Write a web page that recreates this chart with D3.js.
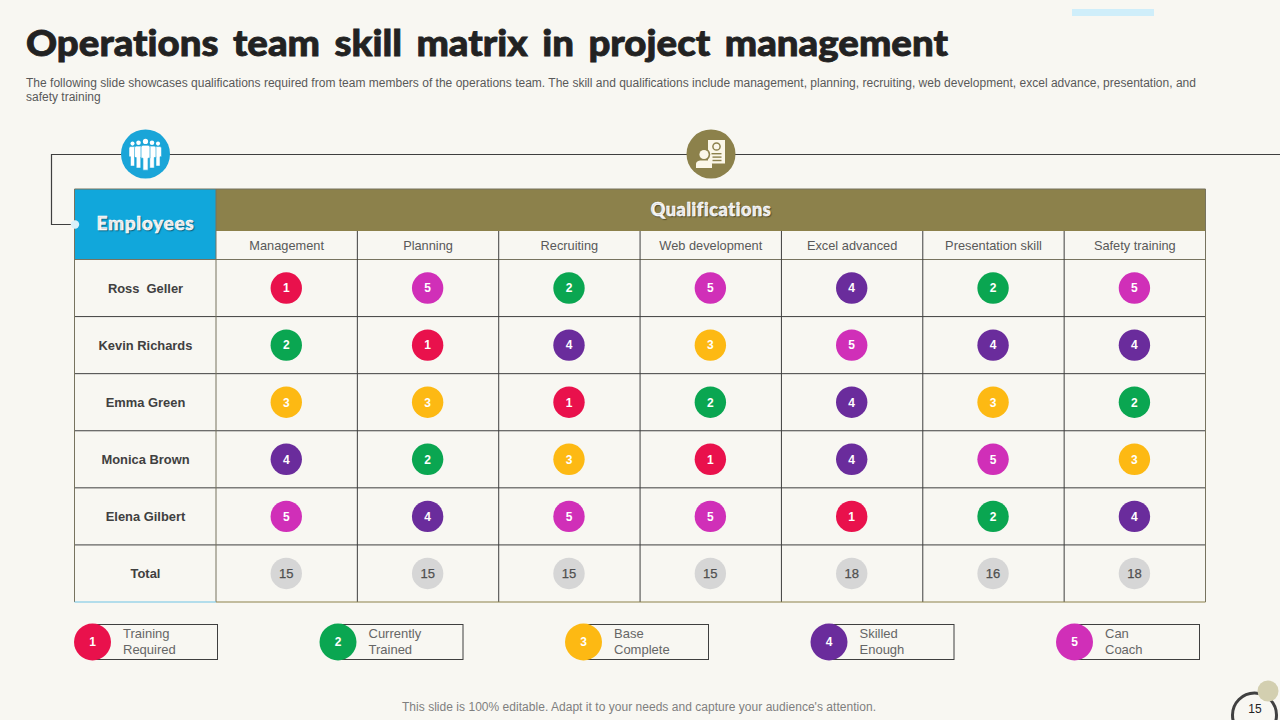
<!DOCTYPE html>
<html>
<head>
<meta charset="utf-8">
<script src="https://cdn.jsdelivr.net/npm/d3@7"></script>
<style>
  html, body { margin: 0; padding: 0; background: #f8f7f2; }
  svg { display: block; }
  text { font-family: "Liberation Sans", Arial, sans-serif; white-space: pre; }
</style>
</head>
<body>
<div id="chart"></div>
<script>
// 資料
const employees = ['Ross  Geller', 'Kevin Richards', 'Emma Green', 'Monica Brown', 'Elena Gilbert']
const qualifications = ['Management', 'Planning', 'Recruiting', 'Web development', 'Excel advanced', 'Presentation skill', 'Safety training']
const rossScores = [1, 5, 2, 5, 4, 2, 5]
const kevinScores = [2, 1, 4, 3, 5, 4, 4]
const emmaScores = [3, 3, 1, 2, 4, 3, 2]
const monicaScores = [4, 2, 3, 1, 4, 5, 3]
const elenaScores = [5, 4, 5, 5, 1, 2, 4]
const totals = [15, 15, 15, 15, 18, 16, 18]
const legendLevels = [1, 2, 3, 4, 5]
const legendLabels = [['Training', 'Required'], ['Currently', 'Trained'], ['Base', 'Complete'], ['Skilled', 'Enough'], ['Can', 'Coach']]

const scores = [rossScores, kevinScores, emmaScores, monicaScores, elenaScores]
const rowNames = [...employees, 'Total']

const svg = d3.select('#chart').append('svg').attr('width', 1280).attr('height', 720)

const levelColor = d3.scaleOrdinal().domain(legendLevels)
    .range(['#e9114c', '#0aa651', '#fdb913', '#6a2c9c', '#d02fb8'])

// scale
const xScale = d3.scaleBand().domain(qualifications).range([216, 1205.5])
const yScale = d3.scaleBand().domain(rowNames).range([259.5, 602])
const legendScale = d3.scalePoint().domain(legendLevels).range([92.5, 1074.5])

const lineColor = '#3f3f3f'

// 標題
svg.append('text').attr('x', 26).attr('y', 56)
    .attr('textLength', 922).attr('lengthAdjust', 'spacingAndGlyphs')
    .style('font-family', 'Lato').style('font-weight', 900).style('font-size', '36px').style('fill', '#222')
    .style('font-variant-ligatures', 'none').style('word-spacing', '5px')
    .style('stroke', '#222').style('stroke-width', '0.8px')
    .text('Operations team skill matrix in project management')

svg.append('text').attr('x', 26).attr('y', 87)
    .attr('textLength', 1170).attr('lengthAdjust', 'spacing')
    .style('font-size', '12px').style('fill', '#595959')
    .text('The following slide showcases qualifications required from team members of the operations team. The skill and qualifications include management, planning, recruiting, web development, excel advance, presentation, and')
svg.append('text').attr('x', 26).attr('y', 101)
    .style('font-size', '12px').style('fill', '#595959')
    .text('safety training')

// 右上色塊
svg.append('rect').attr('x', 1072).attr('y', 9).attr('width', 82).attr('height', 7).attr('fill', '#cfeefa')

// 連接線
svg.append('path')
    .attr('d', 'M1280,154.5H51.5V224.5H75')
    .attr('fill', 'none').attr('stroke', lineColor).attr('stroke-width', 1.2)

// 表頭
svg.append('rect').attr('x', 74.5).attr('y', 189).attr('width', 141.5).attr('height', 70.5).attr('fill', '#11a7db')
svg.append('rect').attr('x', 216).attr('y', 189).attr('width', 989.5).attr('height', 42).attr('fill', '#8c814b')

svg.append('text').attr('x', 145.5).attr('y', 230)
    .attr('text-anchor', 'middle')
    .style('font-family', 'Lato').style('font-weight', 900).style('font-size', '19px').style('fill', '#fff')
    .style('stroke', '#fff').style('stroke-width', '0.5px')
    .style('letter-spacing', '0.7px')
    .style('text-shadow', '1px 1px 1px rgba(0,0,0,0.35)')
    .text('Employees')
svg.append('text').attr('x', 711).attr('y', 215.5)
    .attr('text-anchor', 'middle')
    .style('font-family', 'Lato').style('font-weight', 900).style('font-size', '18px').style('fill', '#fff')
    .style('stroke', '#fff').style('stroke-width', '0.5px')
    .style('letter-spacing', '0.6px')
    .style('text-shadow', '1px 1px 1px rgba(0,0,0,0.35)')
    .text('Qualifications')

// 格線
const grid = svg.append('g').attr('stroke', lineColor).attr('stroke-width', 1).attr('fill', 'none')
rowNames.forEach((d, i) => {
    if (i > 0) {
        grid.append('line').attr('x1', 74.5).attr('x2', 1205.5).attr('y1', yScale(d)).attr('y2', yScale(d))
    }
})
grid.append('line').attr('x1', 74.5).attr('x2', 1205.5).attr('y1', yScale.range()[0]).attr('y2', yScale.range()[0]).attr('stroke', '#77735f')
grid.append('line').attr('x1', 74.5).attr('x2', 1205.5).attr('y1', 189).attr('y2', 189).attr('stroke', '#77735f')
grid.append('line').attr('x1', 1205.5).attr('x2', 1205.5).attr('y1', 189).attr('y2', 602).attr('stroke', '#77735f')
grid.append('line').attr('x1', 74.5).attr('x2', 74.5).attr('y1', 189).attr('y2', 602).attr('stroke', '#77735f')
qualifications.forEach(d => {
    grid.append('line').attr('x1', xScale(d)).attr('x2', xScale(d))
        .attr('y1', xScale(d) === 216 ? 189 : 231).attr('y2', 602)
        .attr('stroke', xScale(d) === 216 ? '#77735f' : lineColor)
})
svg.append('line').attr('x1', 74.5).attr('x2', 216).attr('y1', 602).attr('y2', 602).attr('stroke', '#6fc3e3').attr('stroke-width', 1.2)
svg.append('line').attr('x1', 216).attr('x2', 1205.5).attr('y1', 602).attr('y2', 602).attr('stroke', '#8c814b').attr('stroke-width', 1.2)

svg.append('circle').attr('cx', 75).attr('cy', 224.5).attr('r', 4.2).attr('fill', '#d8f1fa')

// 欄標題
svg.selectAll('.col-label').data(qualifications).enter()
    .append('text').attr('class', 'col-label')
    .attr('x', d => xScale(d) + xScale.bandwidth() / 2)
    .attr('y', 250)
    .attr('text-anchor', 'middle')
    .style('font-size', '12.8px').style('fill', '#595959')
    .text(d => d)

// 列標題
svg.selectAll('.row-label').data(rowNames).enter()
    .append('text').attr('class', 'row-label')
    .attr('x', 145.5)
    .attr('y', d => yScale(d) + yScale.bandwidth() / 2 + 4.5)
    .attr('text-anchor', 'middle')
    .style('font-size', '12.9px').style('font-weight', 700).style('fill', '#404040')
    .text(d => d)

// 圓點
const cells = employees.flatMap((name, r) =>
    qualifications.map((q, c) => ({ name, q, value: scores[r][c] })))

const cell = svg.selectAll('.cell').data(cells).enter()
    .append('g').attr('class', 'cell')
    .attr('transform', d => `translate(${xScale(d.q) + xScale.bandwidth() / 2 - 0.4},${yScale(d.name) + yScale.bandwidth() / 2})`)
cell.append('circle').attr('r', 15.7).attr('fill', d => levelColor(d.value))
cell.append('text').attr('y', 4.3).attr('text-anchor', 'middle')
    .style('font-size', '12px').style('font-weight', 700)
    .style('fill', d => d === 3 ? '#fff' : '#fff')
    .text(d => d.value)

// 合計
const total = svg.selectAll('.total').data(totals).enter()
    .append('g').attr('class', 'total')
    .attr('transform', (d, i) => `translate(${xScale(qualifications[i]) + xScale.bandwidth() / 2 - 0.4},${yScale('Total') + yScale.bandwidth() / 2})`)
total.append('circle').attr('r', 15.7).attr('fill', '#d6d6d6')
total.append('text').attr('y', 4.6).attr('text-anchor', 'middle')
    .style('font-size', '13px').style('fill', '#505050')
    .style('stroke', '#505050').style('stroke-width', '0.25px')
    .text(d => d)

// 圖例
const legend = svg.selectAll('.legend').data(legendLevels).enter()
    .append('g').attr('class', 'legend')
    .attr('transform', d => `translate(${legendScale(d)},642)`)
legend.append('rect').attr('x', 0).attr('y', -17.5).attr('width', 125).attr('height', 35)
    .attr('fill', 'none').attr('stroke', lineColor).attr('stroke-width', 1)
legend.append('circle').attr('r', 18.5).attr('fill', d => levelColor(d))
legend.append('text').attr('y', 4.3).attr('text-anchor', 'middle')
    .style('font-size', '12px').style('font-weight', 700).style('fill', '#fff')
    .text(d => d)
legend.each(function (d, i) {
    const g = d3.select(this)
    legendLabels[i].forEach((t, j) => {
        g.append('text').attr('x', 30.5).attr('y', -4 + j * 16)
            .style('font-size', '13px').style('fill', '#666')
            .text(t)
    })
})

// 人物圖示
const peopleIcon = svg.append('g').attr('transform', 'translate(145.5,154)')
peopleIcon.append('circle').attr('r', 24.5).attr('fill', '#1aa5d8')
function person(x, y, scale) {
    const p = peopleIcon.append('g').attr('transform', `translate(${x},${y}) scale(${scale})`)
    p.append('circle').attr('cy', -2.8).attr('r', 2.6).attr('fill', '#fff')
    p.append('path').attr('d', 'M-4.5,3Q-4.5,1 -2.5,1H2.5Q4.5,1 4.5,3V14H2.6V26H-2.6V14H-4.5Z')
        .attr('fill', '#fff').attr('stroke', '#1aa5d8').attr('stroke-width', 0.7)
}
person(-13, -8.2, 0.78)
person(12.5, -8.2, 0.78)
person(-7, -8.8, 0.88)
person(6.5, -8.8, 0.88)
person(0, -9.8, 1)

// 資格圖示
const certColor = '#fbf7e8'
const certIcon = svg.append('g').attr('transform', 'translate(711,154)')
certIcon.append('circle').attr('r', 24.5).attr('fill', '#8c814b')
certIcon.append('rect').attr('x', -3).attr('y', -14).attr('width', 17).attr('height', 23.5).attr('fill', certColor)
certIcon.append('circle').attr('cx', 5.5).attr('cy', -7.5).attr('r', 3.6).attr('fill', 'none').attr('stroke', '#8c814b').attr('stroke-width', 1.5)
certIcon.append('rect').attr('x', 0.5).attr('y', -1).attr('width', 10).attr('height', 1.4).attr('fill', '#8c814b')
certIcon.append('rect').attr('x', 1.5).attr('y', 2.4).attr('width', 9).attr('height', 1.4).attr('fill', '#8c814b')
certIcon.append('rect').attr('x', 1.5).attr('y', 5.8).attr('width', 9).attr('height', 1.4).attr('fill', '#8c814b')
certIcon.append('circle').attr('cx', -7).attr('cy', 0.5).attr('r', 6.2).attr('fill', '#8c814b')
certIcon.append('circle').attr('cx', -7).attr('cy', 0.5).attr('r', 4.6).attr('fill', certColor)
certIcon.append('path').attr('d', 'M-15,14V10Q-15,7 -11,6.5H-3Q1,7 1,10V14Z').attr('fill', certColor)

// 頁尾
svg.append('text').attr('x', 639).attr('y', 710.5).attr('text-anchor', 'middle')
    .attr('textLength', 474).attr('lengthAdjust', 'spacing')
    .style('font-size', '12px').style('fill', '#7f7f7f')
    .text("This slide is 100% editable. Adapt it to your needs and capture your audience's attention.")

svg.append('circle').attr('cx', 1254.5).attr('cy', 715).attr('r', 22)
    .attr('fill', 'none').attr('stroke', '#404040').attr('stroke-width', 3)
svg.append('circle').attr('cx', 1268).attr('cy', 691).attr('r', 10.5).attr('fill', '#d3cfb0')
svg.append('text').attr('x', 1255).attr('y', 713).attr('text-anchor', 'middle')
    .style('font-size', '12px').style('fill', '#222')
    .text('15')
</script>
</body>
</html>
